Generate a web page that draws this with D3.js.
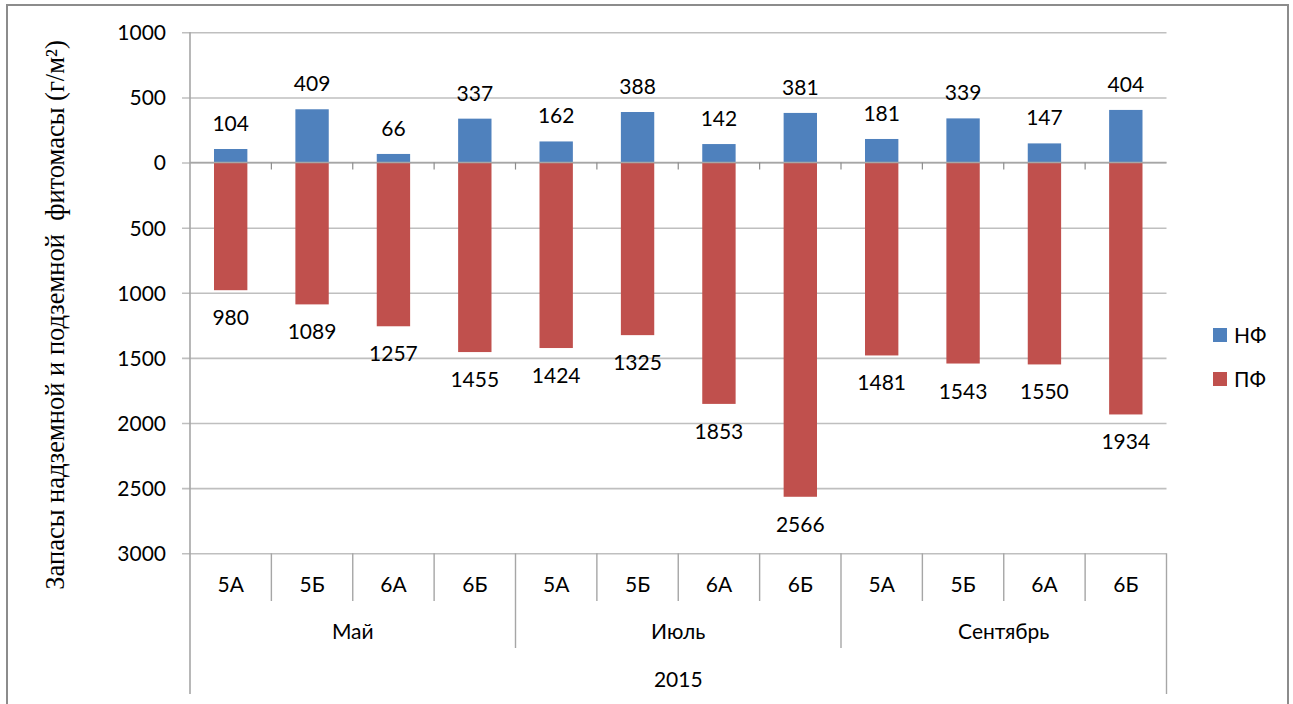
<!DOCTYPE html>
<html>
<head>
<meta charset="utf-8">
<script src="https://cdn.jsdelivr.net/npm/d3@7/dist/d3.min.js"></script>
<style>
  html, body { margin: 0; padding: 0; background: #ffffff; }
  svg { display: block; }
  .lbl { font-family: Lato, "Liberation Sans", sans-serif; font-size: 21px; fill: #000; }
</style>
</head>
<body>
<svg id="chart" width="1293" height="704"></svg>
<script>
// Sites sampled in each month
const categories = ["5А", "5Б", "6А", "6Б", "5А", "5Б", "6А", "6Б", "5А", "5Б", "6А", "6Б"];
const months = ["Май", "Июль", "Сентябрь"];
const year = "2015";
// Above-ground (НФ) and below-ground (ПФ) phytomass, g/m²
const nfValues = [104, 409, 66, 337, 162, 388, 142, 381, 181, 339, 147, 404];
const pfValues = [980, 1089, 1257, 1455, 1424, 1325, 1853, 2566, 1481, 1543, 1550, 1934];
const yTicks = [1000, 500, 0, -500, -1000, -1500, -2000, -2500, -3000];
const seriesNames = ["НФ", "ПФ"];
const colors = ["#4F81BD", "#C0504D"];

const svg = d3.select("#chart");

// outer chart frame
svg.append("rect")
  .attr("x", 7).attr("y", 5).attr("width", 1281).attr("height", 710)
  .attr("fill", "none").attr("stroke", "#8c8c8c").attr("stroke-width", 2);

const plot = { left: 190, right: 1166.5, top: 32.3, bottom: 553.3 };

const y = d3.scaleLinear().domain([-3000, 1000]).range([plot.bottom, plot.top]);
const x = d3.scaleBand().domain(d3.range(categories.length))
  .range([plot.left, plot.right]).paddingInner(0.59).paddingOuter(0.295);
const xCell = d3.scaleBand().domain(d3.range(categories.length))
  .range([plot.left, plot.right]);

// horizontal gridlines + y-axis with absolute values as labels
const yAxis = d3.axisLeft(y).tickValues(yTicks)
  .tickSize(plot.right - plot.left + 8)
  .tickFormat(d => Math.abs(d));
const gy = svg.append("g").attr("transform", `translate(${plot.right},0)`).call(yAxis);
gy.select(".domain").remove();
gy.selectAll(".tick line").attr("stroke", "#bfbfbf").attr("stroke-width", 1.6);
gy.selectAll(".tick text").attr("class", "lbl").attr("x", -(plot.right - plot.left) - 24)
  .attr("dy", "0.35em").style("font-size", "21px").attr("fill", "#000");

// vertical axis line
svg.append("line")
  .attr("x1", plot.left).attr("x2", plot.left)
  .attr("y1", plot.top).attr("y2", 694)
  .attr("stroke", "#a6a6a6").attr("stroke-width", 1.6);

// bars
const bars = svg.append("g");
bars.selectAll("rect.pf").data(pfValues).join("rect")
  .attr("class", "pf")
  .attr("x", (d, i) => x(i)).attr("width", x.bandwidth())
  .attr("y", y(0)).attr("height", d => y(-d) - y(0))
  .attr("fill", colors[1]);
bars.selectAll("rect.nf").data(nfValues).join("rect")
  .attr("class", "nf")
  .attr("x", (d, i) => x(i)).attr("width", x.bandwidth())
  .attr("y", d => y(d)).attr("height", d => y(0) - y(d))
  .attr("fill", colors[0]);

// zero line with category ticks
svg.append("line")
  .attr("x1", plot.left).attr("x2", plot.right)
  .attr("y1", y(0)).attr("y2", y(0))
  .attr("stroke", "#a6a6a6").attr("stroke-width", 1.6);
svg.append("g").selectAll("line").data(d3.range(1, categories.length)).join("line")
  .attr("x1", i => xCell(i)).attr("x2", i => xCell(i))
  .attr("y1", y(0)).attr("y2", y(0) + 7)
  .attr("stroke", "#8c8c8c").attr("stroke-width", 1.2);

// value labels
svg.append("g").selectAll("text").data(nfValues).join("text")
  .attr("class", "lbl").attr("text-anchor", "middle")
  .attr("x", (d, i) => x(i) + x.bandwidth() / 2)
  .attr("y", d => y(d) - 18)
  .text(d => d);
svg.append("g").selectAll("text").data(pfValues).join("text")
  .attr("class", "lbl").attr("text-anchor", "middle")
  .attr("x", (d, i) => x(i) + x.bandwidth() / 2)
  .attr("y", d => y(-d) + 35)
  .text(d => d);

// multi-level category axis
const sep = svg.append("g").attr("stroke", "#a6a6a6").attr("stroke-width", 1.4);
sep.selectAll("line.cat").data(d3.range(1, categories.length).filter(i => i % 4 !== 0)).join("line")
  .attr("x1", i => xCell(i)).attr("x2", i => xCell(i))
  .attr("y1", plot.bottom).attr("y2", 601);
sep.selectAll("line.mon").data([4, 8]).join("line")
  .attr("x1", i => xCell(i)).attr("x2", i => xCell(i))
  .attr("y1", plot.bottom).attr("y2", 648);
sep.append("line")
  .attr("x1", plot.right).attr("x2", plot.right)
  .attr("y1", plot.bottom).attr("y2", 694);

svg.append("g").selectAll("text").data(categories).join("text")
  .attr("class", "lbl").attr("text-anchor", "middle")
  .attr("x", (d, i) => xCell(i) + xCell.bandwidth() / 2)
  .attr("y", 592).text(d => d);
svg.append("g").selectAll("text").data(months).join("text")
  .attr("class", "lbl").attr("text-anchor", "middle")
  .attr("x", (d, i) => (xCell(i * 4) + xCell(i * 4 + 3) + xCell.bandwidth()) / 2)
  .attr("y", 639).text(d => d);
svg.append("text").attr("class", "lbl").attr("text-anchor", "middle")
  .attr("x", (plot.left + plot.right) / 2).attr("y", 687).text(year);

// y-axis title
svg.append("text")
  .attr("text-anchor", "middle")
  .attr("font-family", "'Liberation Serif', 'DejaVu Serif', serif")
  .attr("font-size", 26.5)
  .attr("fill", "#000")
  .style("white-space", "pre")
  .attr("transform", "translate(64,315) rotate(-90)")
  .text("Запасы надземной и подземной  фитомасы (г/м²)");

// legend
const leg = svg.append("g").selectAll("g").data(seriesNames).join("g")
  .attr("transform", (d, i) => `translate(1213,${328 + i * 44})`);
leg.append("rect").attr("width", 14).attr("height", 14).attr("fill", (d, i) => colors[i]);
leg.append("text").attr("class", "lbl").attr("x", 21).attr("y", 15).text(d => d);
</script>
</body>
</html>
